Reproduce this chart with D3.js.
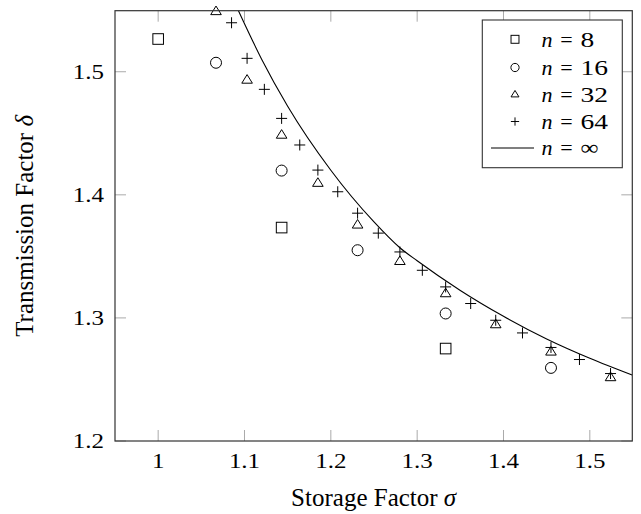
<!DOCTYPE html>
<html>
<head>
<meta charset="utf-8">
<script src="https://cdn.jsdelivr.net/npm/d3@7"></script>
<style>
  body { margin: 0; background: #fff; }
  svg { display: block; font-family: "Liberation Serif", "Times New Roman", serif; }
</style>
</head>
<body>
<svg id="chart" width="641" height="514"></svg>
<script>
// storage factor (sigma) / transmission factor (delta)
const n8X = [1.000, 1.143, 1.333];
const n8Y = [1.5266, 1.3734, 1.2751];

const n16X = [1.067, 1.143, 1.231, 1.333, 1.455];
const n16Y = [1.5073, 1.4197, 1.3550, 1.3036, 1.2594];

const n32X = [1.067, 1.103, 1.143, 1.185, 1.231, 1.280, 1.333, 1.391, 1.455, 1.524];
const n32Y = [1.5490, 1.4933, 1.4486, 1.4095, 1.3756, 1.3460, 1.3198, 1.2946, 1.2724, 1.2516];

const n64X = [1.085, 1.103, 1.123, 1.143, 1.164, 1.185, 1.208, 1.231, 1.255, 1.280,
  1.306, 1.333, 1.362, 1.391, 1.422, 1.455, 1.488, 1.524];
const n64Y = [1.5398, 1.5109, 1.4857, 1.4621, 1.4405, 1.4201, 1.4025, 1.3851, 1.3689, 1.3536,
  1.3387, 1.3252, 1.3117, 1.2981, 1.2878, 1.2760, 1.2662, 1.2548];

// n = infinity curve
const infX = [1.0927, 1.12, 1.15, 1.20, 1.25, 1.28, 1.30, 1.35, 1.40, 1.45, 1.50, 1.549];
const infY = [1.5500, 1.5100, 1.4720, 1.4200, 1.3780, 1.3570, 1.3464, 1.3223, 1.3013, 1.2829, 1.2672, 1.2536];

const xTicks = [1, 1.1, 1.2, 1.3, 1.4, 1.5];
const yTicks = [1.2, 1.3, 1.4, 1.5];
const legendLabels = ['8', '16', '32', '64', '\u221E'];

const svg = d3.select('#chart');
const box = { left: 115, right: 632.3, top: 10.7, bottom: 441 };

const x = d3.scaleLinear().domain([0.95, 1.5492]).range([box.left, box.right]);
const y = d3.scaleLinear().domain([1.2, 1.5496]).range([box.bottom, box.top]);

const zip = (xs, ys) => xs.map((v, i) => ({ x: v, y: ys[i] }));

// math-ish text is a bit wider than plain Liberation Serif
const mathStretch = 1.25;

svg.append('clipPath').attr('id', 'plotClip')
  .append('rect')
  .attr('x', box.left).attr('y', box.top)
  .attr('width', box.right - box.left).attr('height', box.bottom - box.top);

// ticks (inside, mirrored)
const tickLen = 11;
const ticks = svg.append('g').attr('stroke', '#aaa').attr('stroke-width', 1);
xTicks.forEach(t => {
  ticks.append('line').attr('x1', x(t)).attr('x2', x(t)).attr('y1', box.bottom).attr('y2', box.bottom - tickLen);
  ticks.append('line').attr('x1', x(t)).attr('x2', x(t)).attr('y1', box.top).attr('y2', box.top + tickLen);
});
yTicks.forEach(t => {
  ticks.append('line').attr('y1', y(t)).attr('y2', y(t)).attr('x1', box.left).attr('x2', box.left + tickLen);
  ticks.append('line').attr('y1', y(t)).attr('y2', y(t)).attr('x1', box.right).attr('x2', box.right - tickLen);
});

// tick labels
svg.append('g').selectAll('text').data(xTicks).enter().append('text')
  .attr('transform', d => `translate(${x(d)},468) scale(${mathStretch},1)`)
  .attr('text-anchor', 'middle').attr('font-size', 20)
  .text(d => d3.format('~g')(d));
svg.append('g').selectAll('text').data(yTicks).enter().append('text')
  .attr('transform', d => `translate(104,${y(d)}) scale(${mathStretch},1)`)
  .attr('dy', '0.34em')
  .attr('text-anchor', 'end').attr('font-size', 20)
  .text(d => d3.format('.1f')(d));

// axis labels
const xl = svg.append('text').attr('x', (box.left + box.right) / 2).attr('y', 506)
  .attr('text-anchor', 'middle').attr('font-size', 25);
xl.append('tspan').text('Storage Factor ');
xl.append('tspan').attr('font-style', 'italic').text('\u03C3');

const yl = svg.append('text')
  .attr('transform', `translate(33,${(box.top + box.bottom) / 2}) rotate(-90)`)
  .attr('text-anchor', 'middle').attr('font-size', 25);
yl.append('tspan').text('Transmission Factor ');
yl.append('tspan').attr('font-style', 'italic').text('\u03B4');

// n = infinity line
const line = d3.line().x(d => x(d.x)).y(d => y(d.y)).curve(d3.curveMonotoneX);
svg.append('path')
  .datum(zip(infX, infY))
  .attr('clip-path', 'url(#plotClip)')
  .attr('d', line)
  .attr('fill', 'none').attr('stroke', '#000').attr('stroke-width', 1.1);

// marker shapes
const markers = {
  square: g => g.append('rect').attr('x', -5.3).attr('y', -5.3).attr('width', 10.6).attr('height', 10.6),
  circle: g => g.append('circle').attr('r', 5.5),
  triangle: g => g.append('path').attr('d', 'M0,-5.4 L5.3,3.2 L-5.3,3.2 Z'),
  plus: g => g.append('path').attr('d', 'M-5.5,0 H5.5 M0,-5.5 V5.5')
};

function drawSeries(xs, ys, shape) {
  svg.append('g').selectAll('g').data(zip(xs, ys)).enter().append('g')
    .attr('transform', d => `translate(${x(d.x)},${y(d.y)})`)
    .attr('fill', 'none').attr('stroke', '#000').attr('stroke-width', 1)
    .each(function () { markers[shape](d3.select(this)); });
}
drawSeries(n8X, n8Y, 'square');
drawSeries(n16X, n16Y, 'circle');
drawSeries(n32X, n32Y, 'triangle');
drawSeries(n64X, n64Y, 'plus');

// frame
svg.append('rect')
  .attr('x', box.left).attr('y', box.top)
  .attr('width', box.right - box.left).attr('height', box.bottom - box.top)
  .attr('fill', 'none').attr('stroke', '#333').attr('stroke-width', 1.2);

// legend
const legend = svg.append('g');
legend.append('rect')
  .attr('x', 482.3).attr('y', 20).attr('width', 140).attr('height', 147.7)
  .attr('fill', '#fff').attr('stroke', '#333').attr('stroke-width', 1.1);
const rowY = [39.3, 67.5, 94.5, 121.5, 148];
const shapes = ['square', 'circle', 'triangle', 'plus'];
legendLabels.forEach((lab, i) => {
  const row = legend.append('g').attr('transform', `translate(0,${rowY[i]})`);
  if (i < 4) {
    const m = row.append('g').attr('transform', 'translate(515,0) scale(0.75)')
      .attr('fill', 'none').attr('stroke', '#000').attr('stroke-width', 1.3);
    markers[shapes[i]](m);
  } else {
    row.append('line').attr('x1', 491).attr('x2', 534).attr('y1', 0).attr('y2', 0)
      .attr('stroke', '#000').attr('stroke-width', 1.1);
  }
  row.append('text').attr('x', 541.5).attr('dy', '0.34em').attr('font-size', 22)
    .attr('font-style', 'italic').text('n');
  row.append('text').attr('x', 566.5).attr('dy', '0.34em').attr('font-size', 22)
    .attr('text-anchor', 'middle').text('=');
  row.append('text').attr('transform', `translate(580.5,0) scale(${i < 4 ? mathStretch : 1.15},1)`)
    .attr('dy', '0.34em').attr('font-size', 22).text(lab);
});
</script>
</body>
</html>
